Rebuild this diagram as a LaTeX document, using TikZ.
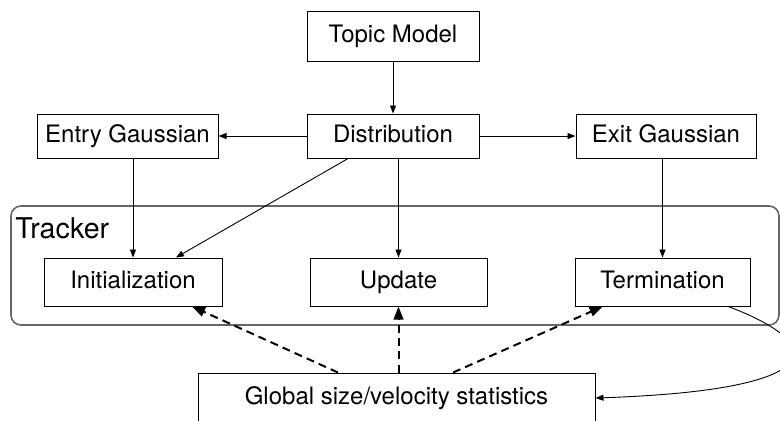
\documentclass[tikz,border=0pt]{standalone}
\usepackage{fontspec}
\setmainfont{TeX Gyre Heros}
\usetikzlibrary{arrows.meta,calc}
\tikzset{
  box/.style={draw, line width=0.5pt, inner sep=0pt, text height=9pt, text depth=2.6pt,
    font=\fontsize{12pt}{14pt}\selectfont},
  flow/.style={line width=0.45pt, -{Triangle[length=4pt,width=3pt]}},
  feed/.style={line width=1pt, dash pattern=on 4pt off 2.6pt, -{Triangle[length=6.5pt,width=4.8pt]}},
  group/.style={draw=black!60, line width=0.8pt, rounded corners=5pt},
}
\begin{document}
\begin{tikzpicture}[x=0.5pt,y=-0.5pt]
  \useasboundingbox (0,0) rectangle (780,420);
  \clip (0,0) rectangle (780,420);

  % tracker group
  \draw[group] (11,206) rectangle (779,325);
  \node[anchor=base west, inner sep=0pt, font=\fontsize{14.3pt}{16pt}\selectfont] (trk) at (15,238) {Tracker};

  % boxes
  \node[box, minimum width=86pt, minimum height=25pt] (topic) at (393,36) {Topic Model};
  \node[box, minimum width=86pt, minimum height=22pt] (dist) at (393,136) {Distribution};
  \node[box, minimum width=90.5pt, minimum height=22pt] (entry) at (127.5,136) {Entry Gaussian};
  \node[box, minimum width=90pt, minimum height=22pt] (exit) at (666,136) {Exit Gaussian};
  \node[box, minimum width=89pt, minimum height=24pt] (init) at (133,282) {Initialization};
  \node[box, minimum width=88.5pt, minimum height=24pt] (update) at (398.5,282) {Update};
  \node[box, minimum width=87.5pt, minimum height=24pt] (term) at (662.5,282) {Termination};
  \node[box, minimum width=198.5pt, minimum height=25pt] (global) at (396.5,398) {Global size/velocity statistics};

  % model flow
  \draw[flow] (topic.south) -- (dist.north);
  \draw[flow] (dist.west) -- (entry.east);
  \draw[flow] (dist.east) -- (exit.west);
  \draw[flow] (init |- entry.south) -- (init.north);
  \draw[flow] ($(dist.south west)!0.24!(dist.south east)$) -- ($(init.north west)!0.74!(init.north east)$);
  \draw[flow] (update |- dist.south) -- (update.north);
  \draw[flow] (term |- exit.south) -- (term.north);

  % statistics feeding the tracker
  \draw[feed] ($(global.north west)!0.353!(global.north east)$) -- ($(init.south west)!0.83!(init.south east)$);
  \draw[feed] (update |- global.north) -- (update.south);
  \draw[feed] ($(global.north west)!0.642!(global.north east)$) -- ($(term.south west)!0.16!(term.south east)$);

  % terminated tracks update the statistics
  \draw[flow] ($(term.south west)!0.874!(term.south east)$) .. controls (830,345) and (830,390) .. (global.east);
\end{tikzpicture}
\end{document}
